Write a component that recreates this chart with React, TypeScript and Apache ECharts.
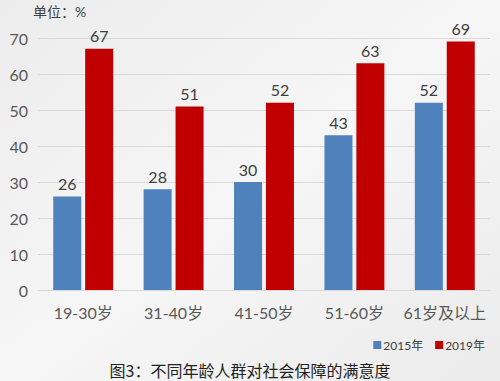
import React, { useEffect, useRef } from "react";
import * as echarts from "echarts";

const categories = ["19-30岁", "31-40岁", "41-50岁", "51-60岁", "61岁及以上"];
const series2015 = [26, 28, 30, 43, 52];
const series2019 = [67, 51, 52, 63, 69];
const seriesNames = ["2015年", "2019年"];

const FONT = "Lato, 'Noto Sans CJK SC', sans-serif";

export default function App() {
  const ref = useRef<HTMLDivElement>(null);
  useEffect(() => {
    if (!ref.current) return;
    const chart = echarts.init(ref.current, undefined, { renderer: "svg" });
    chart.setOption({
      animation: false,
      backgroundColor: {
        type: "linear",
        x: 0,
        y: 0,
        x2: 1,
        y2: 1,
        colorStops: [
          { offset: 0, color: "#ececec" },
          { offset: 0.5, color: "#f6f6f6" },
          { offset: 1, color: "#ebebeb" },
        ],
      },
      title: [
        {
          text: "单位：%",
          left: 33,
          top: 4,
          padding: 0,
          textStyle: { fontSize: 14, fontWeight: "normal", color: "#404040", fontFamily: FONT },
        },
        {
          text: "图3：不同年龄人群对社会保障的满意度",
          left: "center",
          top: 362,
          padding: 0,
          textStyle: { fontSize: 16, fontWeight: "normal", color: "#222", fontFamily: "'Noto Sans CJK SC', serif" },
        },
      ],
      legend: {
        data: seriesNames,
        right: 10,
        top: 334,
        itemWidth: 8,
        itemHeight: 8,
        itemGap: 12,
        icon: "rect",
        textStyle: { fontSize: 12, color: "#404040", fontFamily: FONT, padding: [0, 0, 0, -3] },
      },
      grid: { left: 38, right: 10, top: 38, bottom: 91, containLabel: false },
      xAxis: {
        type: "category",
        data: categories,
        axisLine: { show: true, lineStyle: { color: "#d9d9d9" } },
        axisTick: { show: false },
        axisLabel: { interval: 0, fontSize: 16, color: "#595959", fontFamily: FONT, margin: 14 },
      },
      yAxis: {
        type: "value",
        min: 0,
        max: 70,
        interval: 10,
        axisLine: { show: false },
        axisTick: { show: false },
        splitLine: { lineStyle: { color: "#d9d9d9" } },
        axisLabel: { fontSize: 16, color: "#595959", fontFamily: FONT, margin: 10 },
      },
      series: [
        {
          name: seriesNames[0],
          type: "bar",
          data: series2015,
          barWidth: 28,
          barGap: "14%",
          itemStyle: { color: "#4f81bd" },
          label: { show: true, position: "top", distance: 5, fontSize: 16, color: "#404040", fontFamily: FONT },
        },
        {
          name: seriesNames[1],
          type: "bar",
          data: series2019,
          barWidth: 28,
          barGap: "14%",
          itemStyle: { color: "#c00000" },
          label: { show: true, position: "top", distance: 5, fontSize: 16, color: "#404040", fontFamily: FONT },
        },
      ],
    });
    return () => chart.dispose();
  }, []);
  return <div ref={ref} style={{ position: "absolute", left: 0, top: 0, width: 500, height: 381 }} />;
}
